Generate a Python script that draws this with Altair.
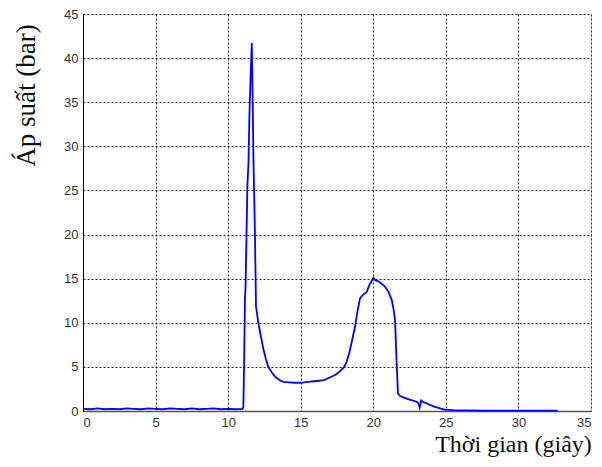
import altair as alt
import pandas as pd

# time (s)
time_s = [0, 0.5, 1, 1.5, 2, 2.5, 3, 3.5, 4, 4.5, 5, 5.5, 6, 6.5, 7, 7.5, 8, 8.5, 9, 9.5, 10, 10.5, 11.0,
          11.05, 11.1, 11.16, 11.2, 11.33, 11.4, 11.47, 11.55, 11.63, 11.69, 11.74, 11.8, 11.85, 11.92, 11.96,
          12.08, 12.25, 12.43, 12.6, 12.77, 13.0, 13.23, 13.5, 13.8, 14.2, 14.6, 15.0, 15.5, 16.1, 16.6, 17.0,
          17.4, 17.7, 18.0, 18.17, 18.35, 18.5, 18.75, 18.9, 19.09, 19.3, 19.55, 19.73, 19.85, 20.0, 20.15,
          20.35, 20.6, 20.8, 21.05, 21.27, 21.4, 21.5, 21.6, 21.7, 21.85, 22.07, 22.5, 22.99, 23.1, 23.2, 23.3,
          23.45, 23.7, 23.9, 24.2, 24.6, 24.9, 25.5, 26.5, 27.5, 28.5, 29.5, 30.5, 31.5, 32.7]

# pressure (bar)
pressure_bar = [0.25, 0.2, 0.3, 0.2, 0.25, 0.2, 0.3, 0.25, 0.2, 0.3, 0.25, 0.2, 0.3, 0.25, 0.2, 0.3, 0.2, 0.25,
                0.3, 0.2, 0.25, 0.2, 0.25,
                0.5, 5.4, 12.9, 14.0, 25.8, 28.0, 33.8, 38.0, 41.7, 35.3, 28.8, 24.0, 19.7, 11.8, 11.4,
                10.0, 8.5, 7.0, 5.9, 5.0, 4.4, 3.9, 3.55, 3.3, 3.25, 3.2, 3.2, 3.3, 3.4, 3.5, 3.8,
                4.1, 4.5, 5.0, 5.6, 6.6, 7.7, 9.6, 11.2, 12.8, 13.2, 13.5, 14.3, 14.6, 15.1, 14.8,
                14.7, 14.4, 14.1, 13.5, 12.6, 11.5, 10.3, 5.8, 2.0, 1.7, 1.55, 1.3, 1.05, 0.9, 0.4, 1.2,
                1.0, 0.85, 0.7, 0.5, 0.3, 0.15, 0.1, 0.08, 0.05, 0.05, 0.05, 0.05, 0.05, 0.05]

x_ticks = [0, 5, 10, 15, 20, 25, 30, 35]
y_ticks = [0, 5, 10, 15, 20, 25, 30, 35, 40, 45]

assert len(time_s) == len(pressure_bar)
df = pd.DataFrame({"t": time_s, "p": pressure_bar})

grid_common = dict(
    grid=True, gridColor="#000000", gridDash=[2, 2], gridOpacity=0.85, gridWidth=1,
    ticks=False, labelFont="Liberation Sans", labelFontSize=13, labelColor="#333333",
    titleFont="Liberation Serif", titleFontWeight="normal", titleColor="#111111",
)

chart = alt.Chart(df).mark_line(color="#0000FF", strokeWidth=1.8).encode(
    x=alt.X("t:Q", scale=alt.Scale(domain=[0, 35], nice=False, zero=False),
            axis=alt.Axis(values=x_ticks, title="Thời gian (giây)", labelPadding=5,
                          domainColor="#555555", domainWidth=1.5, titleFontSize=24,
                          titleX=430, titleY=40, titleAlign="center", titleBaseline="alphabetic",
                          **grid_common)),
    y=alt.Y("p:Q", scale=alt.Scale(domain=[0, 45], nice=False),
            axis=alt.Axis(values=y_ticks, title="Áp suất (bar)", labelPadding=5,
                          domainColor="#000000", domainWidth=1, titleFontSize=27,
                          titleX=-57, titleY=81, titleAngle=270, titleAlign="center",
                          titleBaseline="middle", **grid_common)),
).properties(
    width=508, height=397,
    autosize=alt.AutoSizeParams(type="none"),
    padding={"left": 75, "top": 6, "right": 3, "bottom": 48},
).configure_view(stroke="#000000", strokeWidth=1).configure(background="white")

chart.save("out.html", embed_options={"renderer": "svg", "actions": False})
